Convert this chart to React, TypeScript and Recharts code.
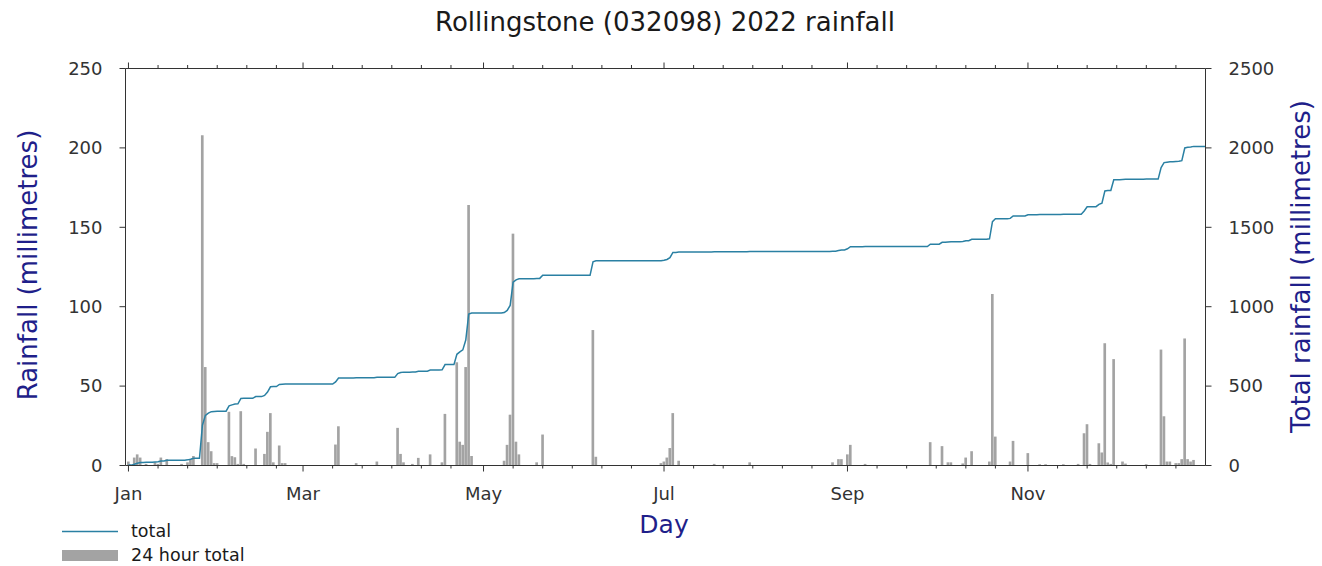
import React from 'react';
import { ComposedChart, Bar, Line, XAxis, YAxis } from 'recharts';

// Day-of-year (1 = 1 Jan 2022) on which rain was recorded, and the 24 hour total in mm.
const RAIN_DAYS = [
  1, 3, 4, 5, 7, 10, 11, 12, 14, 19, 21, 22, 23, 26, 27, 28, 29, 30, 31,
  35, 36, 37, 38, 39, 40, 44, 47, 48, 49, 50, 52, 53, 54,
  71, 72, 78, 85,
  92, 93, 94, 97, 99, 103, 107, 108, 112, 113, 114, 115, 116, 117,
  128, 129, 130, 131, 132, 133, 139, 141,
  158, 159,
  181, 182, 183, 184, 185, 187, 199, 211,
  239, 241, 242, 244, 245, 250,
  272, 276, 278, 279, 283, 284, 286, 292, 293, 294, 299, 300,
  305, 309, 311, 317, 322, 324, 325, 326, 329, 330, 331, 332, 333, 334, 337, 338, 345,
  350, 351, 352, 353, 355, 356, 357, 358, 359, 360, 361,
];
const RAIN_MM = [
  2.5, 5, 7, 5, 1, 2, 1, 5, 4, 1, 2, 4, 6, 208, 62, 14.7, 9, 1.5, 1.5,
  33.8, 5.9, 5.2, 1, 34.2, 1, 10.7, 7.3, 21.2, 33, 2, 12.6, 1.5, 1.5,
  13.2, 24.7, 1.5, 2.5,
  23.7, 7.3, 2, 1, 4.8, 7, 2, 32.5, 65, 15, 13, 62, 164, 6,
  3, 13, 32, 146, 15, 7, 2, 19.5,
  85.3, 5.5,
  1.5, 2.5, 5, 11, 33, 3, 1, 2,
  2, 4, 4, 7, 13, 1,
  14.7, 12.2, 2, 2, 1.3, 5, 9, 2.5, 108, 18.2, 2.5, 15.5,
  7.8, 0.8, 0.8, 0.8, 1, 20.3, 26, 1, 14, 8.2, 77, 1.9, 1, 67, 2.5, 1.2, 0.8,
  73, 31, 2.5, 2.5, 1.5, 1.5, 4, 80, 4, 2.5, 3.5,
];

const DAYS_IN_YEAR = 365;

// Labelled months and the day-of-year they start on.
const MONTH_LABELS = ['Jan', 'Mar', 'May', 'Jul', 'Sep', 'Nov'];
const MONTH_START_DAYS = [1, 60, 121, 182, 244, 305];
// Minor ticks every ten days after each labelled month start.
const MINOR_OFFSETS = [10, 20, 30, 40, 50];

const RAIN_TICKS = [0, 50, 100, 150, 200, 250];
const TOTAL_TICKS = [0, 500, 1000, 1500, 2000, 2500];

const TITLE = 'Rollingstone (032098) 2022 rainfall';
const X_TITLE = 'Day';
const LEFT_TITLE = 'Rainfall (millimetres)';
const RIGHT_TITLE = 'Total rainfall (millimetres)';
const LEGEND_LINE = 'total';
const LEGEND_BAR = '24 hour total';

const FONT = '"DejaVu Sans", Verdana, sans-serif';
const AXIS_COLOR = '#333333';
const LABEL_COLOR = '#1f1f8a';
const LINE_COLOR = '#2a80a3';
const BAR_COLOR = '#a3a3a3';

// Build one row per day with the daily amount and the running total.
const rainByDay = new Map<number, number>();
RAIN_DAYS.forEach((d, i) => rainByDay.set(d, RAIN_MM[i]));
const data: { day: number; rain: number; total: number }[] = [];
let running = 0;
for (let d = 1; d <= DAYS_IN_YEAR; d++) {
  const r = rainByDay.get(d) ?? 0;
  running += r;
  data.push({ day: d, rain: r, total: Math.round(running * 10) / 10 });
}

const dayTicks: number[] = [];
MONTH_START_DAYS.forEach((s) => {
  dayTicks.push(s);
  MINOR_OFFSETS.forEach((o) => {
    if (s + o <= DAYS_IN_YEAR) dayTicks.push(s + o);
  });
});

const BottomTick = (props: any) => {
  const { x, y, payload } = props;
  const idx = MONTH_START_DAYS.indexOf(payload.value);
  const major = idx >= 0;
  return (
    <g>
      <line x1={x} x2={x} y1={y} y2={y + (major ? 6 : 3)} stroke={AXIS_COLOR} strokeWidth={1} />
      {major && (
        <text x={x} y={y + 34.5} textAnchor="middle" fontSize={18} fill={AXIS_COLOR} fontFamily={FONT}>
          {MONTH_LABELS[idx]}
        </text>
      )}
    </g>
  );
};

const TopTick = (props: any) => {
  const { x, y, payload } = props;
  const major = MONTH_START_DAYS.indexOf(payload.value) >= 0;
  return <line x1={x} x2={x} y1={y} y2={y - (major ? 6 : 3.5)} stroke={AXIS_COLOR} strokeWidth={1} />;
};

const W = 1322;
const H = 566;

export default function App() {
  return (
    <div style={{ position: 'absolute', left: 0, top: 0, width: W, height: H, background: '#fff', fontFamily: FONT }}>
      <ComposedChart
        width={W}
        height={H}
        data={data}
        margin={{ top: 58.5, right: 56.5, bottom: 60.5, left: 65.5 }}
      >
        <XAxis
          xAxisId="bottom"
          dataKey="day"
          type="number"
          domain={[0, DAYS_IN_YEAR]}
          ticks={dayTicks}
          interval={0}
          tick={<BottomTick />}
          tickLine={false}
          tickSize={0}
          tickMargin={0}
          height={40}
          axisLine={{ stroke: AXIS_COLOR, strokeWidth: 1 }}
        />
        <XAxis
          xAxisId="top"
          orientation="top"
          dataKey="day"
          type="number"
          domain={[0, DAYS_IN_YEAR]}
          ticks={dayTicks}
          interval={0}
          tick={<TopTick />}
          tickLine={false}
          tickSize={0}
          tickMargin={0}
          height={10}
          axisLine={{ stroke: AXIS_COLOR, strokeWidth: 1 }}
        />
        <YAxis
          yAxisId="rain"
          domain={[0, 250]}
          ticks={RAIN_TICKS}
          interval={0}
          width={60}
          tickSize={6}
          tickMargin={17}
          axisLine={{ stroke: AXIS_COLOR, strokeWidth: 1 }}
          tickLine={{ stroke: AXIS_COLOR, strokeWidth: 1 }}
          tick={{ fontSize: 18, fill: AXIS_COLOR, fontFamily: FONT }}
        />
        <YAxis
          yAxisId="total"
          orientation="right"
          domain={[0, 2500]}
          ticks={TOTAL_TICKS}
          interval={0}
          width={60}
          tickSize={6}
          tickMargin={17}
          axisLine={{ stroke: AXIS_COLOR, strokeWidth: 1 }}
          tickLine={{ stroke: AXIS_COLOR, strokeWidth: 1 }}
          tick={{ fontSize: 18, fill: AXIS_COLOR, fontFamily: FONT }}
        />
        <Bar
          xAxisId="bottom"
          yAxisId="rain"
          dataKey="rain"
          barSize={3}
          fill={BAR_COLOR}
          isAnimationActive={false}
        />
        <Line
          xAxisId="bottom"
          yAxisId="total"
          dataKey="total"
          type="linear"
          stroke={LINE_COLOR}
          strokeWidth={1.5}
          dot={false}
          activeDot={false}
          isAnimationActive={false}
        />
      </ComposedChart>
      <svg
        width={W}
        height={H}
        style={{ position: 'absolute', left: 0, top: 0, pointerEvents: 'none' }}
        fontFamily={FONT}
      >
        <text x={665} y={31} textAnchor="middle" fontSize={26} fill="#1a1a1a">
          {TITLE}
        </text>
        <text x={664} y={533} textAnchor="middle" fontSize={25} fill={LABEL_COLOR}>
          {X_TITLE}
        </text>
        <text
          x={36.5}
          y={265}
          textAnchor="middle"
          fontSize={26}
          fill={LABEL_COLOR}
          transform="rotate(-90 36.5 265)"
        >
          {LEFT_TITLE}
        </text>
        <text
          x={1310}
          y={266.5}
          textAnchor="middle"
          fontSize={26}
          fill={LABEL_COLOR}
          transform="rotate(-90 1310 266.5)"
        >
          {RIGHT_TITLE}
        </text>
        <line x1={62} x2={118} y1={531.5} y2={531.5} stroke={LINE_COLOR} strokeWidth={1.5} />
        <text x={131} y={537} fontSize={17.5} fill="#1a1a1a">
          {LEGEND_LINE}
        </text>
        <rect x={62} y={550} width={56} height={11} fill={BAR_COLOR} />
        <text x={131} y={561} fontSize={17.5} fill="#1a1a1a">
          {LEGEND_BAR}
        </text>
      </svg>
    </div>
  );
}
